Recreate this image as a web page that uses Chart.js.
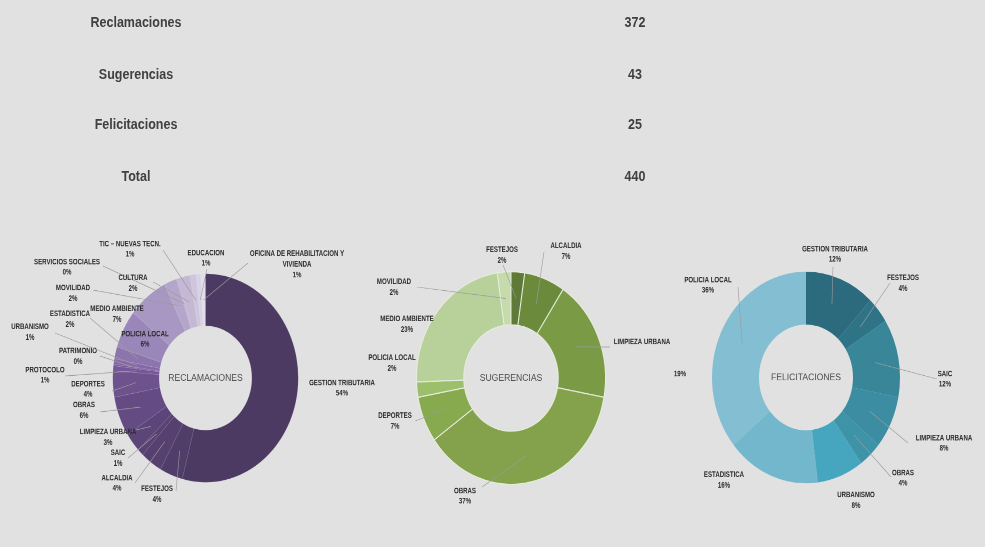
<!DOCTYPE html>
<html><head><meta charset="utf-8">
<script src="https://cdn.jsdelivr.net/npm/chart.js@4.4.1/dist/chart.umd.min.js"></script>
<style>
html,body{margin:0;padding:0;background:#e1e1e1;overflow:hidden;width:985px;height:547px;}
#wrap{position:absolute;left:0;top:0;width:985px;height:486px;transform:scaleY(1.125);transform-origin:0 0;}
#wrap canvas{position:absolute;left:0;top:0;}
.t{position:absolute;font:bold 12.5px "Liberation Sans",Arial,sans-serif;color:#404040;transform:translate(-50%,-50%);white-space:nowrap;}
</style></head><body>
<div id="wrap">
<canvas id="c1" width="985" height="486"></canvas>
<canvas id="c2" width="985" height="486"></canvas>
<canvas id="c3" width="985" height="486"></canvas>
</div>
<script>
// ---------- DATA ----------
const summaryLabels = ['Reclamaciones', 'Sugerencias', 'Felicitaciones', 'Total'];
const summaryValues = [372, 43, 25, 440];

const reclamacionesCategories = ['GESTION TRIBUTARIA','FESTEJOS','ALCALDIA','SAIC','LIMPIEZA URBANA','OBRAS','DEPORTES','PROTOCOLO','PATRIMONIO','URBANISMO','ESTADISTICA','POLICIA LOCAL','MEDIO AMBIENTE','MOVILIDAD','SERVICIOS SOCIALES','CULTURA','TIC – NUEVAS TECN.','EDUCACION','OFICINA DE REHABILITACION Y VIVIENDA'];
const reclamacionesValues = [201,15,14,4,11,23,15,3,1,3,7,22,26,8,1,8,4,3,3];

const sugerenciasCategories = ['FESTEJOS','ALCALDIA','LIMPIEZA URBANA','OBRAS','DEPORTES','POLICIA LOCAL','MEDIO AMBIENTE','MOVILIDAD'];
const sugerenciasValues = [1,3,8,16,3,1,10,1];

const felicitacionesCategories = ['GESTION TRIBUTARIA','FESTEJOS','SAIC','LIMPIEZA URBANA','OBRAS','URBANISMO','ESTADISTICA','POLICIA LOCAL'];
const felicitacionesValues = [3,1,3,2,1,2,4,9];

// ---------- STYLE / LAYOUT ----------
const SY = 1.125; // vertical stretch of the reference picture
const TX = 0.87;  // horizontal squeeze of the small label text
const reclamacionesColors = ['#4c3a62','#513d69','#55406f','#584273','#5c4578','#654b83','#6d528e','#735797','#785b9c','#8468a8','#8c74ad','#9a86b8','#a897c2','#b4a6ca','#bcafd0','#c4b8d5','#cfc6dd','#d9d2e4','#e2ddea'];
const sugerenciasColors = ['#5f7a38','#6b8a3c','#7b9a45','#84a24c','#88aa4f','#9cbf6b','#b8d09a','#c6dbab'];
const felicitacionesColors = ['#2c6b7d','#2f7486','#398699','#3c8da2','#3f93a7','#46a6bf','#73b7cc','#84bed2'];

// label layout in reference pixels: t = text centre, l = leader-line start (optional), p = separate percent position (optional)
const reclamacionesLayout = [
  {t:[342,383]}, {t:[157,489], l:[176,491]}, {t:[117,478], l:[135,483]}, {t:[118,453], l:[128,458]},
  {t:[108,432], l:[136,430]}, {t:[84,405], l:[100,412]}, {t:[88,384], l:[112,391]}, {t:[45,370], l:[65,376]},
  {t:[78,351], l:[100,356]}, {t:[30,327], l:[55,333]}, {t:[70,314], l:[90,318]}, {t:[145,334]},
  {t:[117,309]}, {t:[73,288], l:[93,290]}, {t:[67,262], l:[103,266]}, {t:[133,278], l:[153,282]},
  {t:[130,244], l:[163,250]}, {t:[206,253], l:[207,269]}, {t:[297,254], l:[248,263]}
];
const sugerenciasLayout = [
  {t:[502,250], l:[503,265]}, {t:[566,246], l:[544,252]}, {t:[642,342], l:[610,347], p:[680,374]},
  {t:[465,491], l:[482,487]}, {t:[395,416], l:[415,421]}, {t:[392,358]}, {t:[407,319]}, {t:[394,282], l:[417,287]}
];
const felicitacionesLayout = [
  {t:[835,249], l:[833,267]}, {t:[903,278], l:[890,283]}, {t:[945,374], l:[937,379]}, {t:[944,438], l:[908,443]},
  {t:[903,473], l:[891,477]}, {t:[856,495]}, {t:[724,475]}, {t:[708,280], l:[738,287]}
];

// ---------- SUMMARY TEXT ----------
const wrap = document.getElementById('wrap');
const rowY = [22, 74, 125, 177];
summaryLabels.forEach((s, i) => {
  const a = document.createElement('div'); a.className = 't'; a.textContent = s;
  a.style.left = '136px'; a.style.top = (rowY[i] / SY) + 'px'; wrap.appendChild(a);
  const b = document.createElement('div'); b.className = 't'; b.textContent = String(summaryValues[i]);
  b.style.left = '635px'; b.style.top = (rowY[i] / SY) + 'px'; wrap.appendChild(b);
});

// ---------- LABEL PLUGIN ----------
const LABEL_FONT = 'bold 7px "Liberation Sans", Arial, sans-serif';
function wrapText(ctx, text, maxW) {
  const words = text.split(' '); const lines = []; let cur = '';
  words.forEach(w => {
    const test = cur ? cur + ' ' + w : w;
    if (ctx.measureText(test).width * TX > maxW && cur) { lines.push(cur); cur = w; } else cur = test;
  });
  if (cur) lines.push(cur);
  return lines;
}
function squeezedText(ctx, s, x, y) {
  ctx.save(); ctx.translate(x, y); ctx.scale(TX, 1); ctx.fillText(s, 0, 0); ctx.restore();
}
const labelPlugin = {
  id: 'donutLabels',
  afterDatasetsDraw(chart, args, opts) {
    const ctx = chart.ctx;
    const meta = chart.getDatasetMeta(0);
    const data = chart.data.datasets[0].data;
    const total = data.reduce((a, b) => a + b, 0);
    const layout = opts.layout;
    ctx.save();
    const c = meta.data[0].getProps(['x', 'y']);
    ctx.font = '8.6px "Liberation Sans", Arial, sans-serif';
    ctx.fillStyle = '#4d4d4d'; ctx.textAlign = 'center'; ctx.textBaseline = 'middle';
    ctx.fillText(opts.title, c.x, c.y);
    meta.data.forEach((arc, i) => {
      const L = layout[i]; if (!L) return;
      const p = arc.getProps(['x', 'y', 'startAngle', 'endAngle', 'innerRadius', 'outerRadius']);
      if (L.l) {
        const mid = (p.startAngle + p.endAngle) / 2;
        const r = (p.innerRadius + p.outerRadius) / 2;
        ctx.strokeStyle = '#9c9c9c'; ctx.lineWidth = 0.6;
        ctx.beginPath();
        ctx.moveTo(L.l[0], L.l[1] / SY);
        ctx.lineTo(p.x + Math.cos(mid) * r, p.y + Math.sin(mid) * r);
        ctx.stroke();
      }
      ctx.font = LABEL_FONT; ctx.fillStyle = '#2a2a2a';
      ctx.textAlign = 'center'; ctx.textBaseline = 'middle';
      const lines = wrapText(ctx, chart.data.labels[i], 100);
      const lh = 10.5 / SY;
      let y = L.t[1] / SY;
      lines.forEach(ln => { squeezedText(ctx, ln, L.t[0], y); y += lh; });
      const pct = Math.round(data[i] / total * 100) + '%';
      if (L.p) squeezedText(ctx, pct, L.p[0], L.p[1] / SY);
      else squeezedText(ctx, pct, L.t[0], y);
    });
    ctx.restore();
  }
};

function makeChart(id, labels, values, colors, layout, title, cx, cyRef, R, border) {
  const cy = cyRef / SY;
  new Chart(document.getElementById(id), {
    type: 'doughnut',
    data: { labels: labels, datasets: [{ data: values, backgroundColor: colors, borderColor: border.c, borderWidth: border.w }] },
    options: {
      responsive: false, animation: false, devicePixelRatio: 2, cutout: '50%',
      layout: { padding: { left: cx - R, right: 985 - cx - R, top: cy - R, bottom: 486 - cy - R } },
      plugins: { legend: { display: false }, tooltip: { enabled: false }, donutLabels: { layout: layout, title: title } }
    },
    plugins: [labelPlugin]
  });
}
makeChart('c1', reclamacionesCategories, reclamacionesValues, reclamacionesColors, reclamacionesLayout, 'RECLAMACIONES', 205.5, 378, 93, {c:'rgba(255,255,255,0.12)', w:0.5});
makeChart('c2', sugerenciasCategories, sugerenciasValues, sugerenciasColors, sugerenciasLayout, 'SUGERENCIAS', 511, 378, 95, {c:'#e6ecdc', w:1});
makeChart('c3', felicitacionesCategories, felicitacionesValues, felicitacionesColors, felicitacionesLayout, 'FELICITACIONES', 806, 377.5, 94, {c:'rgba(255,255,255,0)', w:0});
</script>
</body></html>
